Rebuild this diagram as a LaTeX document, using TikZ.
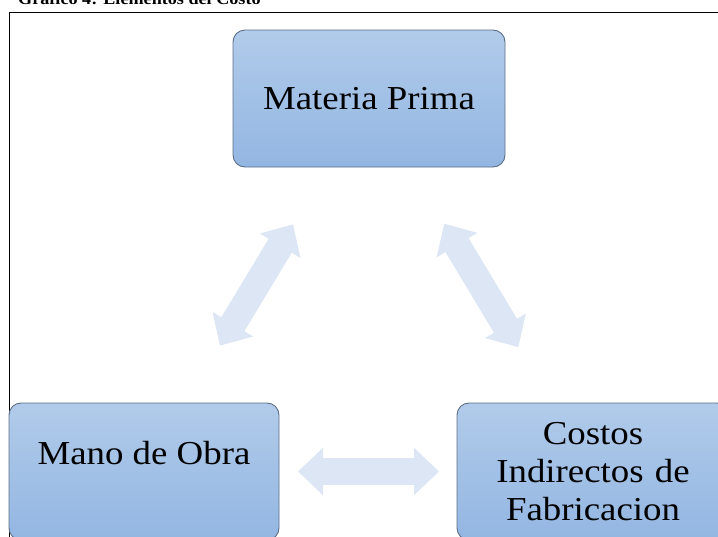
\documentclass[tikz,border=0pt]{standalone}
\usepackage{fontspec}
\setmainfont[FakeStretch=1.1]{Liberation Serif}
\usepackage{tikz}
\usetikzlibrary{arrows.meta, positioning}
\definecolor{boxTop}{HTML}{B1CBEA}
\definecolor{boxBottom}{HTML}{93B6E2}
\definecolor{boxLine}{HTML}{5C6F86}
\definecolor{arrowColor}{HTML}{DCE6F4}
\tikzstyle{elemento} = [rectangle, 
rounded corners=12pt, 
minimum width=272pt, 
minimum height=137pt, 
draw=boxLine, line width=0.9pt, 
top color=boxTop, bottom color=boxBottom, 
align=center, font=\fontsize{33.5}{38}\selectfont]
\tikzstyle{flecha} = [line width=27pt, draw=arrowColor, {Triangle[length=25pt,width=46pt]}-{Triangle[length=25pt,width=46pt]}]

\begin{document}
\begin{tikzpicture}[
    x=1pt, y=-1pt,
    marco/.style={draw=black, line width=1pt},
    titulo/.style={anchor=base west, inner sep=0pt, font=\bfseries\fontsize{16.5}{19}\selectfont}
]
\useasboundingbox (0,0) rectangle (718,536);
\clip (0,0) rectangle (718,536);

% Titulo y marco
\node[titulo] (tit) at (18,4.5) {Grafico 4: Elementos del Costo};
\draw[marco] (9,540) -- (9,12) -- (720,12);

% Elementos
\node[elemento] (mp) at (369,98.5) {Materia Prima};
\node[elemento, minimum width=270pt] (mo) at (144,471.5) {\raisebox{7.5pt}[0pt][0pt]{Mano de Obra}};
\node[elemento, text width=240pt] (co) at (593,471.5) {Costos\\Indirectos de\\Fabricacion};

% Flechas
\draw[flecha, shorten <=147pt, shorten >=147pt] (mp.center) -- (mo.center);
\draw[flecha, shorten <=146pt, shorten >=145pt] (mp.center) -- (co.center);
\draw[flecha, shorten <=154pt, shorten >=154pt] (mo.center) -- (co.center);
\end{tikzpicture}
\end{document}
